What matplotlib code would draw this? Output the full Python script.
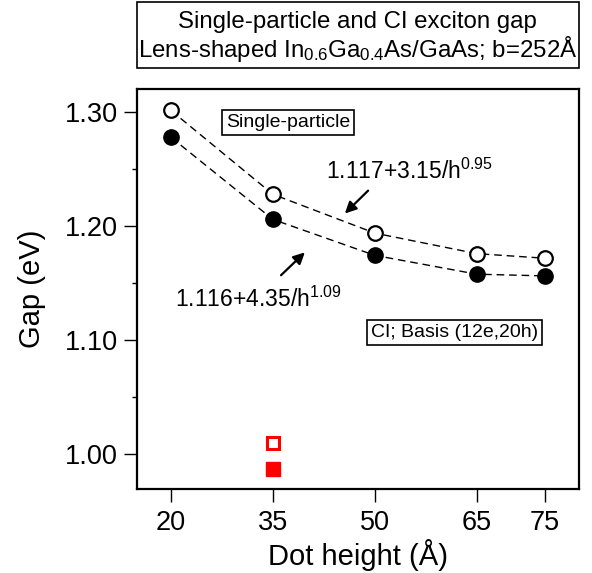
import matplotlib
matplotlib.use('Agg')
import matplotlib.pyplot as plt
from matplotlib.patches import Rectangle

plt.rcParams['font.family'] = ['Liberation Sans', 'DejaVu Sans']
plt.rcParams['mathtext.fontset'] = 'custom'
plt.rcParams['mathtext.rm'] = 'Liberation Sans'
plt.rcParams['mathtext.it'] = 'Liberation Sans'

# data
heights = [20, 35, 50, 65, 75]
gap_sp = [1.3015, 1.228, 1.194, 1.176, 1.172]   # single-particle (open circles)
gap_ci = [1.278, 1.206, 1.1745, 1.158, 1.1565]  # CI (filled circles)
red_h = [35]
red_open = [1.0103]
red_filled = [0.9875]
xticks = [20, 35, 50, 65, 75]
yticks = [1.00, 1.10, 1.20, 1.30]

fig = plt.figure(figsize=(5.92, 5.73), dpi=100)
ax = fig.add_axes([0.2314, 0.1471, 0.7461, 0.6970])

ax.plot(heights, gap_sp, color='black', lw=1.0, dashes=(5.5, 3.5), zorder=2)
ax.plot(heights, gap_ci, color='black', lw=1.0, dashes=(5.5, 3.5), zorder=2)
ax.plot(heights, gap_sp, 'o', ms=10.5, mfc='white', mec='black', mew=1.6, zorder=3)
ax.plot(heights, gap_ci, 'o', ms=11, mfc='black', mec='black', zorder=3)
ax.plot(red_h, red_open, 's', ms=9, mfc='white', mec='red', mew=2.2, zorder=3)
ax.plot(red_h, red_filled, 's', ms=9.5, mfc='red', mec='red', zorder=3)

ax.set_xlim(15, 80)
ax.set_ylim(0.97, 1.32)
ax.set_xticks(xticks)
ax.set_xticklabels([str(v) for v in xticks])
ax.set_yticks(yticks)
ax.set_yticklabels(['%.2f' % v for v in yticks])
ax.set_yticks([1.05, 1.15, 1.25], minor=True)

ax.tick_params(axis='both', which='major', direction='out', length=9.5, width=1.0,
               labelsize=19.5, top=False, right=False)
ax.tick_params(axis='x', which='major', pad=6)
ax.tick_params(axis='y', which='major', pad=4)
ax.tick_params(axis='y', which='minor', direction='out', length=3.8, width=1.0)
for s in ax.spines.values():
    s.set_linewidth(1.6)

ax.set_xlabel('Dot height (Å)', fontsize=21, labelpad=2)
ax.set_ylabel('Gap (eV)', fontsize=21, labelpad=14)

# annotations
ax.annotate('', xy=(45.3, 1.2095), xytext=(49.3, 1.2329),
            arrowprops=dict(arrowstyle='-|>', color='black', lw=1.6, mutation_scale=17))
ax.annotate('', xy=(40.0, 1.1788), xytext=(35.9, 1.1554),
            arrowprops=dict(arrowstyle='-|>', color='black', lw=1.6, mutation_scale=17))
ax.text(42.8, 1.2416, r'1.117+3.15/h$^{0.95}$', fontsize=16.5, ha='left', va='baseline')
ax.text(20.6, 1.1291, r'1.116+4.35/h$^{1.09}$', fontsize=16.5, ha='left', va='baseline')

ax.text(37.2, 1.2912, 'Single-particle', fontsize=14, ha='center', va='center',
        bbox=dict(boxstyle='square,pad=0.2', fc='white', ec='black', lw=1.2))
ax.text(61.7, 1.1072, 'CI; Basis (12e,20h)', fontsize=14, ha='center', va='center',
        bbox=dict(boxstyle='square,pad=0.2', fc='white', ec='black', lw=1.2))

# title box
fig.patches.append(Rectangle((0.2314, 0.8808), 0.7461, 0.1157, transform=fig.transFigure,
                             fill=False, ec='black', lw=1.2))
fig.text(0.6045, 1 - 22 / 573, 'Single-particle and CI exciton gap', fontsize=17.3,
         ha='center', va='center')
fig.text(0.6045, 1 - 49 / 573, r'Lens-shaped In$_{0.6}$Ga$_{0.4}$As/GaAs; b=252Å',
         fontsize=17.3, ha='center', va='center')

fig.savefig('out.png', dpi=100)
